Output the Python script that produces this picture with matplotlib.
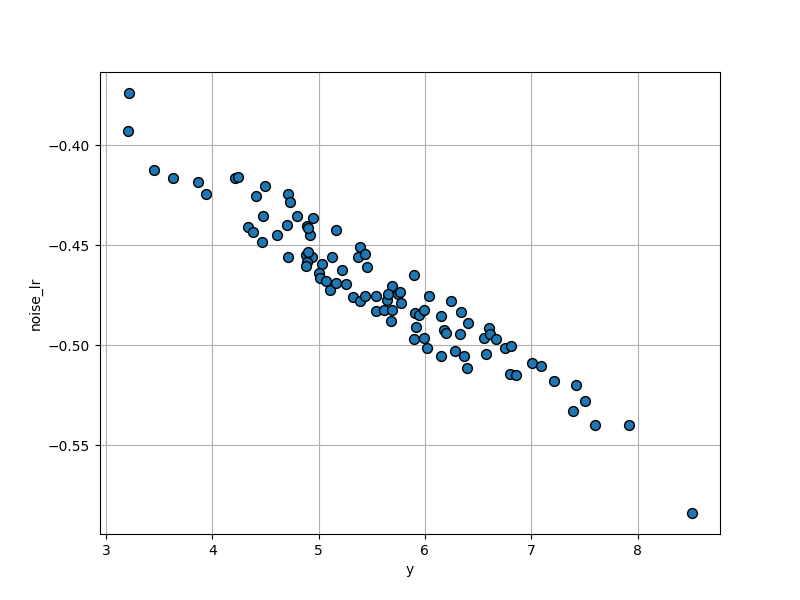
import matplotlib
matplotlib.use("Agg")
from matplotlib import pyplot as plt

y_vals = [3.22, 3.21, 3.45, 3.63, 3.87, 3.94, 4.21, 4.24, 4.41, 4.50, 4.71, 4.73, 4.48, 4.34,
          4.38, 4.47, 4.61, 4.70, 4.80, 4.89, 4.95, 4.92, 4.90, 4.71, 4.88, 4.94, 4.89, 4.88,
          4.90, 5.03, 5.00, 5.01, 5.07, 5.11, 5.16, 5.13, 5.22, 5.26, 5.16, 5.39, 5.37, 5.44,
          5.46, 5.32, 5.39, 5.44, 5.54, 5.54, 5.62, 5.69, 5.69, 5.68, 5.64, 5.65, 5.75, 5.77,
          5.78, 5.90, 5.91, 5.94, 5.92, 5.90, 5.99, 5.99, 6.02, 6.04, 6.15, 6.18, 6.20, 6.25,
          6.34, 6.33, 6.28, 6.15, 6.37, 6.40, 6.41, 6.60, 6.57, 6.56, 6.61, 6.67, 6.75, 6.81,
          6.80, 6.86, 7.01, 7.09, 7.21, 7.42, 7.39, 7.51, 7.60, 7.92, 8.51]
noise_lr = [-0.374, -0.393, -0.4125, -0.4165, -0.4185, -0.4245, -0.4165, -0.416, -0.4255, -0.4205,
            -0.4245, -0.4285, -0.4355, -0.441, -0.4435, -0.4485, -0.445, -0.440, -0.4355, -0.4405,
            -0.4365, -0.445, -0.4415, -0.456, -0.455, -0.456, -0.4585, -0.4605, -0.4535, -0.4595,
            -0.464, -0.4665, -0.468, -0.4725, -0.469, -0.456, -0.4625, -0.4695, -0.4425, -0.451,
            -0.456, -0.4545, -0.461, -0.476, -0.478, -0.4755, -0.4755, -0.483, -0.4825, -0.4705,
            -0.4825, -0.488, -0.4775, -0.4745, -0.4745, -0.4735, -0.479, -0.465, -0.484, -0.485,
            -0.491, -0.497, -0.4965, -0.4825, -0.5015, -0.4755, -0.4855, -0.4925, -0.494, -0.478,
            -0.4835, -0.4945, -0.503, -0.5055, -0.5055, -0.5115, -0.489, -0.4915, -0.5045, -0.4965,
            -0.4945, -0.497, -0.5015, -0.5005, -0.5145, -0.515, -0.509, -0.5105, -0.518, -0.520,
            -0.533, -0.528, -0.540, -0.540, -0.584]

fig, ax = plt.subplots(figsize=(8, 6), dpi=100)
ax.scatter(y_vals, noise_lr, s=50, color='#1f77b4', edgecolors='black', zorder=3)
ax.grid(True)
ax.set_axisbelow(True)
ax.set_xlabel('y')
ax.set_ylabel('noise_lr')
ax.set_yticks([-0.40, -0.45, -0.50, -0.55])
fig.savefig('out.png')
